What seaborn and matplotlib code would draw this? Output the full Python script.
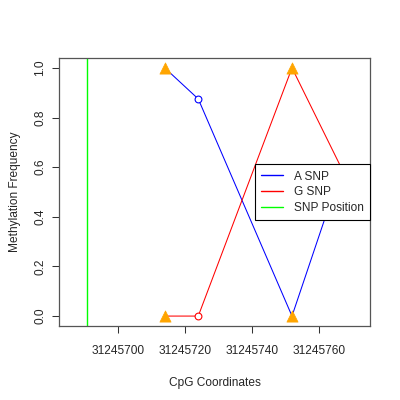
import matplotlib
matplotlib.use("Agg")
import matplotlib.pyplot as plt
import seaborn as sns
import pandas as pd
from matplotlib.lines import Line2D

# Data
positions = [31245714, 31245724, 31245752, 31245767]
a_snp = [1.0, 0.875, 0.0, 0.6]
g_snp = [0.0, 0.0, 1.0, 0.59]
triangle_positions = [31245714, 31245714, 31245752, 31245752]
triangle_values = [1.0, 0.0, 1.0, 0.0]
circle_positions = [31245724, 31245724]
circle_a = [0.875]
circle_g = [0.0]
snp_position = 31245690.7
x_ticks = [31245700, 31245720, 31245740, 31245760]
y_ticks = [0.0, 0.2, 0.4, 0.6, 0.8, 1.0]

sns.set_style("white")
plt.rcParams['font.family'] = ['Liberation Sans', 'DejaVu Sans']
FS = 8.6

fig = plt.figure(figsize=(4, 4), dpi=100)
ax = fig.add_axes([59/400, (400-326)/400, (370-59)/400, (326-58)/400])

df_a = pd.DataFrame({"x": positions, "y": a_snp})
df_g = pd.DataFrame({"x": positions, "y": g_snp})

sns.lineplot(data=df_a, x="x", y="y", ax=ax, color="#0000FF", lw=0.75, sort=False, zorder=2)
sns.lineplot(data=df_g, x="x", y="y", ax=ax, color="#FF0000", lw=0.75, sort=False, zorder=2)
ax.axvline(snp_position, color="#00FF00", lw=1.0, zorder=2)

# open circles
sns.scatterplot(x=[circle_positions[0]], y=circle_a, ax=ax, marker="o", s=24,
                facecolor="white", edgecolor="#0000FF", linewidth=0.8, zorder=3)
sns.scatterplot(x=[circle_positions[1]], y=circle_g, ax=ax, marker="o", s=24,
                facecolor="white", edgecolor="#FF0000", linewidth=0.8, zorder=3)
# orange triangles
sns.scatterplot(x=triangle_positions, y=triangle_values, ax=ax, marker="^", s=65,
                color="#FFA500", edgecolor="#FFA500", linewidth=0.5, zorder=4)

ax.set_xlim(31245682.4, 31245775.3)
ax.set_ylim(-0.04, 1.04)
ax.set_xticks(x_ticks)
ax.set_xticklabels([str(t) for t in x_ticks], fontsize=FS)
ax.set_yticks(y_ticks)
ax.set_yticklabels([f"{t:.1f}" for t in y_ticks], fontsize=FS, rotation=90, va="center")
ax.tick_params(axis="both", direction="out", length=5, width=0.75, color="#333333",
               bottom=True, left=True, pad=9)
ax.tick_params(axis="y", pad=4)
for s in ax.spines.values():
    s.set_color("#555555")
    s.set_linewidth(0.9)
    s.set_visible(True)

ax.set_xlabel("CpG Coordinates", fontsize=FS, labelpad=14)
ax.set_ylabel("Methylation Frequency", fontsize=FS, labelpad=10)

handles = [Line2D([0], [0], color="#0000FF", lw=1.0),
           Line2D([0], [0], color="#FF0000", lw=1.0),
           Line2D([0], [0], color="#00FF00", lw=1.0)]
leg = ax.legend(handles, ["A SNP", "G SNP", "SNP Position"], loc="upper right",
                bbox_to_anchor=(1.0, (326 - 164) / 268),
                fontsize=FS, frameon=True, fancybox=False, framealpha=1,
                edgecolor="black", handlelength=1.85, handletextpad=0.85,
                borderpad=0.55, labelspacing=0.3, borderaxespad=0)
leg.get_frame().set_linewidth(0.8)
leg.set_zorder(10)

fig.savefig("out.png", dpi=100)
